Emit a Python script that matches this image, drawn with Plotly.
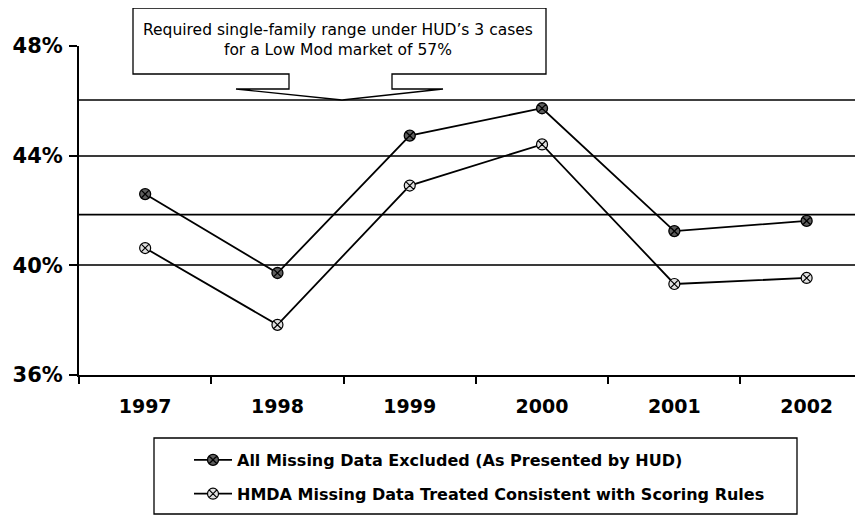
import plotly.graph_objects as go

years = ["1997", "1998", "1999", "2000", "2001", "2002"]
excluded = [42.6, 39.72, 44.73, 45.73, 41.25, 41.62]
scoring = [40.63, 37.83, 42.91, 44.41, 39.32, 39.54]
name_excluded = "All Missing Data Excluded (As Presented by HUD)"
name_scoring = "HMDA Missing Data Treated Consistent with Scoring Rules"
range_low, range_high = 41.85, 46.03
y_ticks = [36, 40, 44, 48]
callout_text = "Required single-family range under HUD’s 3 cases<br>for a Low Mod market of 57%"

# page body has an 8px default margin; figure is sized so it fills the window
OFF = 8
FIG_W, FIG_H = 863 - OFF, 517 - OFF
L, W, T, H = 79, 784, 46, 329          # plot area in window pixels


def px(p):
    return (p - L) / W


def py(p):
    return (T + H - p) / H


fig = go.Figure()
fig.add_trace(go.Scatter(
    x=years, y=excluded, name=name_excluded, mode="lines+markers", legendgroup="a",
    line=dict(color="black", width=1.8),
    marker=dict(symbol="circle-x", size=11, color="#5e5e5e",
                line=dict(color="black", width=1.3)),
))
fig.add_trace(go.Scatter(
    x=years, y=scoring, name=name_scoring, mode="lines+markers", legendgroup="b",
    line=dict(color="black", width=1.8),
    marker=dict(symbol="circle-x", size=11, color="#e0e0e0",
                line=dict(color="black", width=1.2)),
))

# range lines
for v in (range_low, range_high):
    fig.add_shape(type="line", xref="paper", yref="y", x0=0, x1=1, y0=v, y1=v,
                  line=dict(color="black", width=1.6), layer="below")

# callout box with pointer
pts = [(133, 8), (546, 8), (546, 74), (392, 74), (392, 89), (443, 89),
       (342, 100), (236, 89), (289, 89), (289, 74), (133, 74)]
path = "M " + " L ".join(f"{px(a):.5f},{py(b):.5f}" for a, b in pts) + " Z"
fig.add_shape(type="path", xref="paper", yref="paper", path=path,
              fillcolor="white", line=dict(color="black", width=1.3), layer="above")
fig.add_annotation(xref="paper", yref="paper", x=px(338), y=py(40), text=callout_text,
                   showarrow=False, font=dict(family="DejaVu Sans", size=15.5, color="black"),
                   align="center", yanchor="middle", xanchor="center")

# legend box
fig.add_shape(type="rect", xref="paper", yref="paper",
              x0=px(154), x1=px(797), y0=py(438), y1=py(514),
              fillcolor="rgba(0,0,0,0)", line=dict(color="black", width=1.3))

fig.update_layout(
    width=FIG_W, height=FIG_H,
    margin=dict(l=L - OFF, r=FIG_W - (L - OFF) - W, t=T - OFF,
                b=FIG_H - (T - OFF) - H, autoexpand=False),
    paper_bgcolor="white", plot_bgcolor="white",
    showlegend=True,
    legend=dict(x=px(189), y=py(443), xanchor="left", yanchor="top",
                bgcolor="rgba(0,0,0,0)", borderwidth=0,
                font=dict(family="DejaVu Sans", size=16, color="black", weight="bold"),
                tracegroupgap=10, itemwidth=38,
                ),
    font=dict(family="DejaVu Sans", color="black"),
)
fig.update_xaxes(
    type="category", range=[-0.5, 5.426], showgrid=False,
    showline=True, linecolor="black", linewidth=2,
    ticks="outside", tickson="boundaries", ticklen=7, tickcolor="black", tickwidth=1.5,
    tickfont=dict(family="DejaVu Sans", size=19, color="black", weight="bold"),
    ticklabelstandoff=13,
)
fig.update_yaxes(
    range=[36, 48], tickvals=y_ticks, ticktext=[f"{v}%" for v in y_ticks],
    showgrid=True, gridcolor="#3a3a3a", gridwidth=1.5,
    showline=True, linecolor="black", linewidth=2,
    ticks="outside", ticklen=8, tickcolor="black", tickwidth=1.5,
    tickfont=dict(family="DejaVu Sans", size=21, color="black", weight="bold"),
    ticklabelstandoff=2,
    zeroline=False,
)
fig.write_html("out.html")
